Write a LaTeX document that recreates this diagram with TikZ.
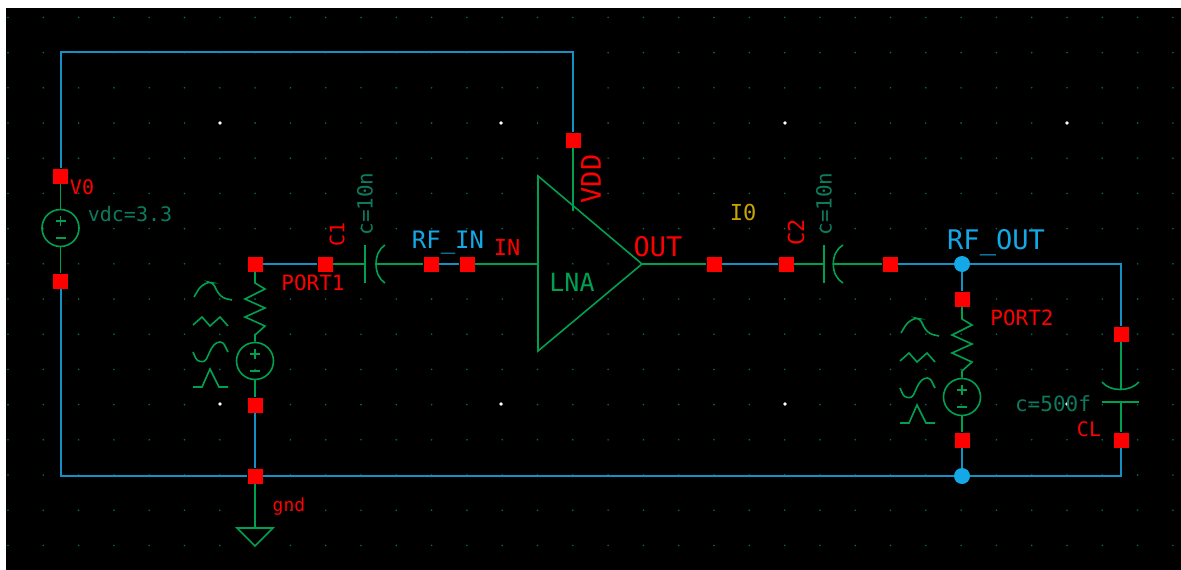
\documentclass[tikz,border=0pt]{standalone}
\usepackage{fontspec}
\newfontfamily\cdsfont{DejaVu Sans Mono}
\definecolor{wireblue}{HTML}{1590C4}
\definecolor{devgreen}{HTML}{00A050}
\definecolor{parmgreen}{HTML}{0C7A5C}
\definecolor{griddot}{HTML}{0A6A50}
\definecolor{netblue}{HTML}{14A8E6}
\definecolor{instyellow}{HTML}{C8A400}
\newcommand{\lbl}[1]{\cdsfont\fontsize{#1}{#1}\selectfont}
\tikzset{
  wire/.style={draw=wireblue,line width=2pt},
  dev/.style={draw=devgreen,line width=1.6pt},
  pin/.style={rectangle,fill=red,minimum width=15pt,minimum height=15pt,inner sep=0pt},
  junc/.style={circle,fill=netblue,minimum size=16pt,inner sep=0pt},
  srcbody/.style={circle,dev,minimum size=37pt,inner sep=0pt},
  redlbl/.style={text=red,inner sep=0pt},
  netlbl/.style={text=netblue,inner sep=0pt},
  parmlbl/.style={text=parmgreen,inner sep=0pt}
}
\begin{document}
\begin{tikzpicture}[x=1pt,y=-1pt]
  \useasboundingbox (0,0) rectangle (1181,570);
  \fill[black] (6,8) rectangle (1181,570);
  % grid
  \foreach \i in {0,...,33}
    \foreach \j in {0,...,15}
      \fill[griddot] (8+35.3*\i,17.4+35.2*\j) circle (0.9);
  \foreach \i in {220,501,785,1067}
    \foreach \j in {123,404}
      \fill[white] (\i,\j) circle (1.8);
  % pins
  \node[pin] (V0top) at (60.5,176) {};
  \node[pin] (V0bot) at (60.5,281) {};
  \node[pin] (P1top) at (255,264) {};
  \node[pin] (P1bot) at (255,405) {};
  \node[pin] (GND) at (255,476) {};
  \node[pin] (C1l) at (325,264) {};
  \node[pin] (C1r) at (431,264) {};
  \node[pin] (IN) at (467,264) {};
  \node[pin] (VDD) at (573,140) {};
  \node[pin] (OUT) at (714,264) {};
  \node[pin] (C2l) at (786,264) {};
  \node[pin] (C2r) at (890,264) {};
  \node[pin] (P2top) at (962,299) {};
  \node[pin] (P2bot) at (962,440) {};
  \node[pin] (CLt) at (1121,334) {};
  \node[pin] (CLb) at (1121,440) {};
  \node[junc] (RFOUT) at (962,264) {};
  \node[junc] (GNDR) at (962,476) {};
  % sources
  \node[srcbody] (V0src) at (60.5,228) {};
  \node[srcbody] (P1src) at (255,361) {};
  \node[srcbody] (P2src) at (962,397) {};
  \foreach \n in {V0,P1,P2} {
    \draw[dev] ([yshift=7pt]\n src.center) ++(-5,0) -- ++(10,0) ++(-5,-5) -- ++(0,10);
    \draw[dev] ([yshift=-10pt]\n src.center) ++(-5,0) -- ++(10,0);
  }
  % port symbols
  \foreach \n/\x/\y in {P1/255/361,P2/962/397} {
    \begin{scope}[shift={(\x,\y)}]
      \draw[dev] (\n top) -- (0,-78) -- (10,-72) -- (-10,-62) -- (10,-53) -- (-10,-44) -- (10,-35) -- (0,-26) -- (\n src);
      \draw[dev,rounded corners=3pt] (-61,-64) -- (-55,-74) -- (-47,-79) -- (-42,-78) -- (-37,-68) -- (-32,-63) -- (-23,-61);
      \draw[dev] (-62,-36) -- (-53,-44) -- (-45,-35) -- (-35,-44) -- (-27,-35);
      \draw[dev,rounded corners=3pt] (-62,-9) -- (-58,0) -- (-50,1) -- (-43,-14) -- (-38,-19) -- (-32,-19) -- (-27,-9);
      \draw[dev] (-62,26) -- (-53,26) -- (-45,8) -- (-36,26) -- (-27,26);
    \end{scope}
  }
  % LNA
  \node[inner sep=0pt] (LNAin) at (538,264) {};
  \node[inner sep=0pt] (LNAout) at (642,264) {};
  \node[inner sep=0pt] (LNAvdd) at (573,211) {};
  \draw[dev] (538,176) -- (538,351) -- (LNAout.center) -- cycle;
  % capacitors
  \coordinate (C1a) at (365,264);
  \coordinate (C1b) at (376,264);
  \coordinate (C2a) at (824,264);
  \coordinate (C2b) at (833,264);
  \coordinate (CLa) at (1121,390);
  \coordinate (CLc) at (1121,402);
  \draw[dev] (365,245) -- (365,283);
  \draw[dev] (385,245) .. controls (373,252) and (373,276) .. (385,283);
  \draw[dev] (824,245) -- (824,283);
  \draw[dev] (843,245) .. controls (830,252) and (830,276) .. (843,283);
  \draw[dev] (1102,382) .. controls (1110,392) and (1130,392) .. (1139,382);
  \draw[dev] (1102,402) -- (1139,402);
  % wires
  \draw[wire] (V0top) |- (VDD |- 0,52) -- (VDD);
  \draw[wire] (V0bot) |- (GND);
  \draw[wire] (GND) -- (GNDR);
  \draw[wire] (GNDR) -| (CLb);
  \draw[wire] (P1bot) -- (GND);
  \draw[wire] (P1top) -- (C1l);
  \draw[wire] (C1r) -- (IN);
  \draw[wire] (OUT) -- (C2l);
  \draw[wire] (C2r) -- (RFOUT);
  \draw[wire] (RFOUT) -| (CLt);
  \draw[wire] (RFOUT) -- (P2top);
  \draw[wire] (P2bot) -- (GNDR);
  % device leads
  \draw[dev] (V0top) -- (V0src);
  \draw[dev] (V0src) -- (V0bot);
  \draw[dev] (P1src) -- (P1bot);
  \draw[dev] (P2src) -- (P2bot);
  \draw[dev] (C1l) -- (C1a);
  \draw[dev] (C1b) -- (C1r);
  \draw[dev] (IN) -- (LNAin.center);
  \draw[dev] (VDD) -- (LNAvdd.center);
  \draw[dev] (LNAout.center) -- (OUT);
  \draw[dev] (C2l) -- (C2a);
  \draw[dev] (C2b) -- (C2r);
  \draw[dev] (CLt) -- (CLa);
  \draw[dev] (CLc) -- (CLb);
  % ground
  \node[inner sep=0pt] (GNDsym) at (255,528) {};
  \draw[dev] (GND) -- (GNDsym.center);
  \draw[dev] (237,528) -- (273,528) -- (255,546) -- cycle;
  % labels
  \node[redlbl,font=\lbl{20}] (V0lbl) at (82,187) {V0};
  \node[parmlbl,font=\lbl{20}] (V0parm) at (130,214) {vdc=3.3};
  \node[redlbl,font=\lbl{21}] (P1lbl) at (313,283) {PORT1};
  \node[redlbl,font=\lbl{20},rotate=90] (C1lbl) at (337,234) {C1};
  \node[parmlbl,font=\lbl{21},rotate=90] (C1parm) at (365,204) {c=10n};
  \node[netlbl,font=\lbl{24}] (RFIN) at (448,243) {RF\_IN};
  \node[redlbl,font=\lbl{22}] (INlbl) at (507,247) {IN};
  \node[redlbl,font=\lbl{27},rotate=90] (VDDlbl) at (591,179) {VDD};
  \node[redlbl,font=\lbl{27}] (OUTlbl) at (658,247) {OUT};
  \node[font=\lbl{25},text=devgreen,inner sep=0pt] (LNAlbl) at (572,282) {LNA};
  \node[font=\lbl{22},text=instyellow,inner sep=0pt] (I0lbl) at (743,212) {I0};
  \node[redlbl,font=\lbl{22},rotate=90] (C2lbl) at (796,232) {C2};
  \node[parmlbl,font=\lbl{21},rotate=90] (C2parm) at (824,204) {c=10n};
  \node[netlbl,font=\lbl{27}] (RFOUTlbl) at (996,243) {RF\_OUT};
  \node[redlbl,font=\lbl{21}] (P2lbl) at (1022,318) {PORT2};
  \node[parmlbl,font=\lbl{21}] (CLparm) at (1053,404) {c=500f};
  \node[redlbl,font=\lbl{20}] (CLlbl) at (1089,429) {CL};
  \node[redlbl,font=\lbl{18}] (GNDlbl) at (289,507) {gnd};
\end{tikzpicture}
\end{document}
